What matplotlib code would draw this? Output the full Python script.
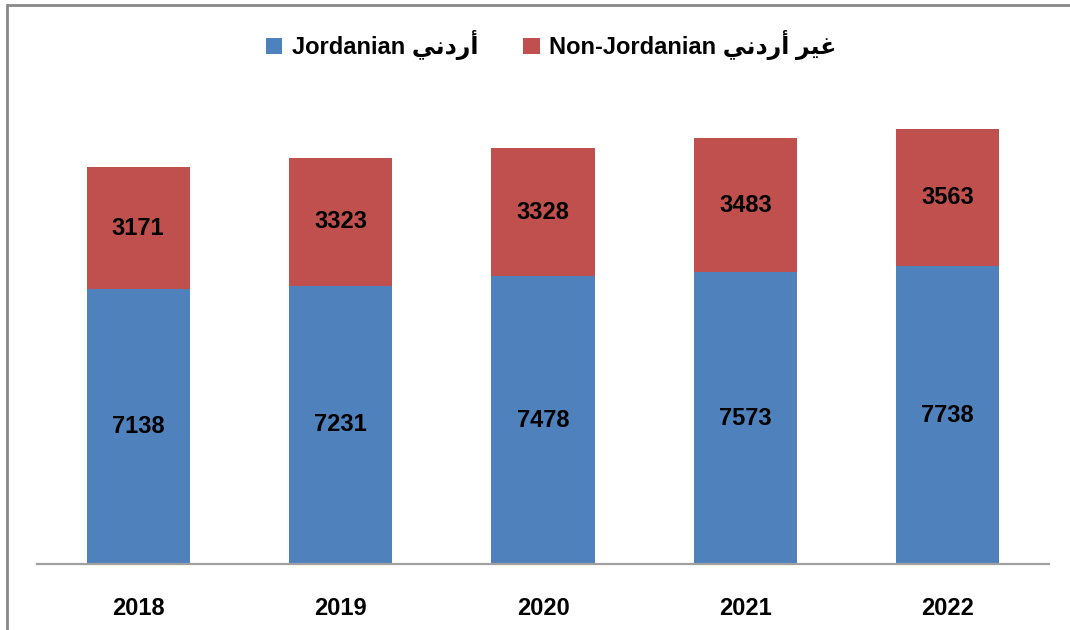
import matplotlib
matplotlib.use("Agg")
import matplotlib.pyplot as plt
import numpy as np
from matplotlib.patches import Rectangle

plt.rcParams['font.family'] = ['Liberation Sans', 'DejaVu Sans']
plt.rcParams['font.weight'] = 'bold'

years = ["2018", "2019", "2020", "2021", "2022"]
jordanian = [7138, 7231, 7478, 7573, 7738]
non_jordanian = [3171, 3323, 3328, 3483, 3563]

# Arabic in presentation forms, visual order (matplotlib does no shaping)
lbl_jo = "Jordanian " + "\uFEF2\uFEE7\uFEA9\uFEAD\uFE83"
lbl_non = "Non-Jordanian " + "\uFEF2\uFEE7\uFEA9\uFEAD\uFE83 \uFEAE\uFEF4\uFECF"

blue = "#4F81BD"
red = "#C0504D"

fig = plt.figure(figsize=(10.7, 6.3), dpi=100)
ax = fig.add_axes([37/1070, 66/630, 1012/1070, 462/630])

x = np.arange(len(years))
b1 = ax.bar(x, jordanian, width=0.51, color=blue, label=lbl_jo)
b2 = ax.bar(x, non_jordanian, width=0.51, bottom=jordanian, color=red, label=lbl_non)

for i in range(len(years)):
    ax.text(x[i], jordanian[i] / 2, str(jordanian[i]), ha='center', va='center',
            fontsize=17, fontweight='bold')
    ax.text(x[i], jordanian[i] + non_jordanian[i] / 2, str(non_jordanian[i]),
            ha='center', va='center', fontsize=17, fontweight='bold')

ax.set_xlim(-0.5, len(years) - 0.5)
ax.set_ylim(0, 12000)
ax.set_xticks(x)
ax.set_xticklabels(years, fontsize=17, fontweight='bold')
ax.tick_params(axis='x', length=0, pad=24)
ax.set_yticks([])
for s in ['left', 'top', 'right']:
    ax.spines[s].set_visible(False)
ax.spines['bottom'].set_color('#A0A0A0')
ax.spines['bottom'].set_linewidth(1.6)

fig.legend(handles=[b1, b2], loc='center', bbox_to_anchor=(0.515, 0.928), ncol=2,
           frameon=False, fontsize=17, handlelength=0.7, handleheight=0.7,
           handletextpad=0.4, columnspacing=1.9)

# outer chart frame (only top and left edges visible in the crop)
fig.patches.append(Rectangle((7/1070, -0.1), 1.2, 1 - 5/630 + 0.1,
                             transform=fig.transFigure, fill=False,
                             edgecolor='#888888', linewidth=2))

fig.savefig("out.png", dpi=100)
